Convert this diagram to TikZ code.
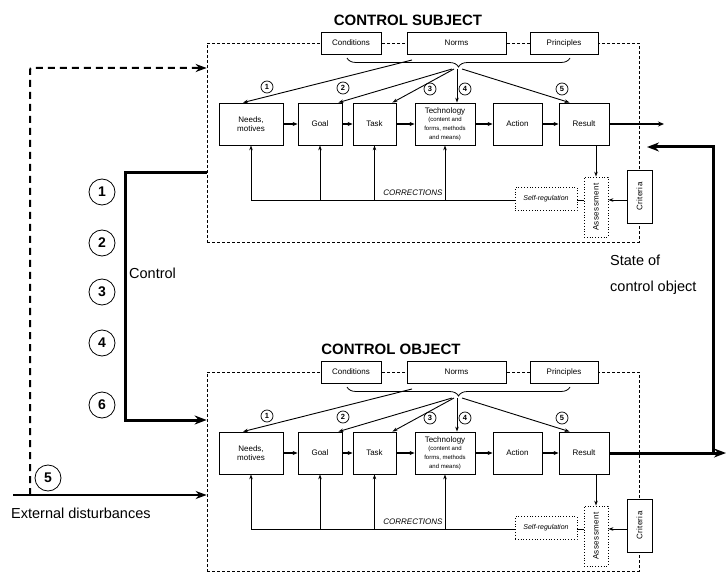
\documentclass[tikz,border=0pt]{standalone}
\usepackage{fontspec}
\setmainfont{Liberation Sans}
\usetikzlibrary{arrows.meta,decorations.pathreplacing,calc}
\newcommand\tfs{\fontsize{6}{7.2}\selectfont}
\tikzset{
  frame/.style={draw, dash pattern=on 3pt off 2pt, line width=0.7pt, inner sep=0pt},
  hbox/.style={draw, fill=white, line width=0.8pt, font=\fontsize{8}{9}\selectfont, inner sep=1pt, align=center},
  pbox/.style={hbox, minimum height=42pt},
  dotbox/.style={draw, fill=white, dotted, line width=0.8pt, inner sep=1pt, align=center},
  titlestyle/.style={font=\fontsize{15}{16}\selectfont\bfseries, inner sep=0pt},
  smallnum/.style={circle, draw, line width=0.7pt, inner sep=0pt, minimum size=12pt, font=\fontsize{7.5}{7.5}\selectfont\bfseries},
  bignum/.style={circle, draw, line width=0.8pt, inner sep=0pt, minimum size=26pt, font=\fontsize{14}{14}\selectfont\bfseries},
  bigtext/.style={font=\fontsize{14.5}{16}\selectfont, inner sep=0pt, anchor=west},
  flow/.style={line width=1.6pt, -{Stealth[length=5pt,width=4pt]}},
  thinarrow/.style={line width=0.9pt, -{Stealth[length=5pt,width=3.5pt]}},
  corr/.style={line width=0.9pt},
  thickarrow/.style={line width=3pt, -{Stealth[length=12pt,width=9pt]}},
  extarrow/.style={line width=1.8pt, -{Stealth[length=11pt,width=8pt]}},
  dasharrow/.style={line width=2pt, dash pattern=on 7pt off 5pt, rounded corners=2pt, -{Stealth[length=11pt,width=8pt]}},
}
\newcommand\ctrlblock[2]{%
  \node[frame, minimum width=432pt, minimum height=199pt] (frame) at (423,142.5) {};
  \node[titlestyle] (title) at (#2,20) {#1};
  \node[hbox, minimum width=60pt, minimum height=22pt] (cond) at (351,43) {Conditions};
  \node[hbox, minimum width=99pt, minimum height=22pt] (norms) at (456.5,43) {Norms};
  \node[hbox, minimum width=68pt, minimum height=22pt] (princ) at (564,43) {Principles};
  \draw[line width=0.8pt, decorate, decoration={brace, amplitude=9pt}] (570,58) -- (347,58);
  \coordinate (tip) at (457,69);
  \coordinate (bl) at (412,60);
  \node[pbox, minimum width=64pt] (needs) at (251,124) {Needs,\\motives};
  \node[pbox, minimum width=44pt] (goal) at (320,124) {Goal};
  \node[pbox, minimum width=43pt] (task) at (374.5,124) {Task};
  \node[pbox, minimum width=60pt] (tech) at (445,124) {Technology\\[-1.5pt]\tfs(content and\\\tfs forms, methods\\\tfs and means)};
  \node[pbox, minimum width=49pt] (action) at (517.5,124) {Action};
  \node[pbox, minimum width=50pt] (result) at (584,124) {Result};
  \foreach \a/\b in {needs/goal, goal/task, task/tech, tech/action, action/result}
    \draw[flow] (\a) -- (\b);
  \draw[thinarrow] (bl) -- ([xshift=-8pt]needs.north);
  \draw[thinarrow] ([xshift=-5pt]tip) -- ([xshift=-4pt]goal.north east);
  \draw[thinarrow] ([xshift=-3pt]tip) -- ([xshift=-4pt]task.north east);
  \draw[thinarrow] (tip) -- (tip |- tech.north);
  \draw[thinarrow] ([xshift=5pt]tip) -- ([xshift=11pt]result.north west);
  \node[smallnum] (n1) at (267,87) {1};
  \node[smallnum] (n2) at (343,88) {2};
  \node[smallnum] (n3) at (430,89) {3};
  \node[smallnum] (n4) at (465,89) {4};
  \node[smallnum] (n5) at (562,89) {5};
  \coordinate (cl) at (0,200);
  \node[dotbox, minimum width=62pt, minimum height=23pt, font=\fontsize{7}{8}\selectfont\itshape] (selfreg) at (546,199) {Self-regulation};
  \node[dotbox, minimum width=24pt, minimum height=60pt, font=\fontsize{8}{9}\selectfont] (assess) at (596,207) {\rotatebox{90}{\addfontfeatures{LetterSpace=6}Assessment}};
  \node[hbox, minimum width=25pt, minimum height=53pt] (crit) at (639.5,196.5) {\rotatebox{90}{\addfontfeatures{LetterSpace=4}Criteria}};
  \draw[corr] (needs.south |- cl) -- (selfreg.west |- cl);
  \foreach \b in {needs,goal,task,tech}
    \draw[thinarrow] (\b.south |- cl) -- (\b.south);
  \node[font=\fontsize{8}{9}\selectfont\itshape, inner sep=0pt] (corrtxt) at (413,193) {CORRECTIONS};
  \draw[corr] (selfreg.east |- cl) -- (assess.west |- cl);
  \draw[thinarrow] (crit.west |- cl) -- (assess.east |- cl);
  \draw[thinarrow] (result.south -| assess.north) -- (assess.north);
}
\begin{document}
\begin{tikzpicture}[x=1pt,y=-1pt]
\fill[white] (0,0) rectangle (726,572);
\useasboundingbox (0,0) rectangle (726,572);
\begin{scope}[name prefix=s-]
  \ctrlblock{CONTROL SUBJECT}{408}
  \coordinate (out) at (664,124);
  \draw[line width=1.4pt, -{Stealth[length=6pt,width=5pt]}] (result.east) -- (out);
\end{scope}
\begin{scope}[shift={(0,329)}, name prefix=o-]
  \ctrlblock{CONTROL OBJECT}{391}
\end{scope}
% left side
\coordinate (ext0) at (13,495);
\coordinate (d0) at (30,495);
\coordinate (d1) at (30,68);
\draw[dasharrow] (d0) -- (d1) -- (d1 -| s-frame.west);
\draw[extarrow] (ext0) -- (ext0 -| o-frame.west);
\coordinate (c0) at (125,173);
\coordinate (c1) at (125,420);
\draw[thickarrow] (c0 -| s-frame.west) -- (c0) -- (c1) -- (c1 -| o-frame.west);
\node[bignum] (b1) at (102,192) {1};
\node[bignum] (b2) at (102,243) {2};
\node[bignum] (b3) at (102,292) {3};
\node[bignum] (b4) at (102,343) {4};
\node[bignum] (b6) at (102,405) {6};
\node[bignum] (b5) at (48,478) {5};
\node[bigtext] (ctrl) at (129,273) {Control};
\node[bigtext] (extd) at (11,513) {External disturbances};
\node[bigtext] (st1) at (610,260) {State of};
\node[bigtext] (st2) at (610,288) {control object};
% right side
\coordinate (rend) at (726,453);
\coordinate (rup) at (713,147);
\coordinate (rtip) at (647,147);
\draw[thickarrow] (o-result.east) -- (rend);
\draw[thickarrow] (o-result.east -| rup) -- (rup) -- (rtip);
\end{tikzpicture}
\end{document}
